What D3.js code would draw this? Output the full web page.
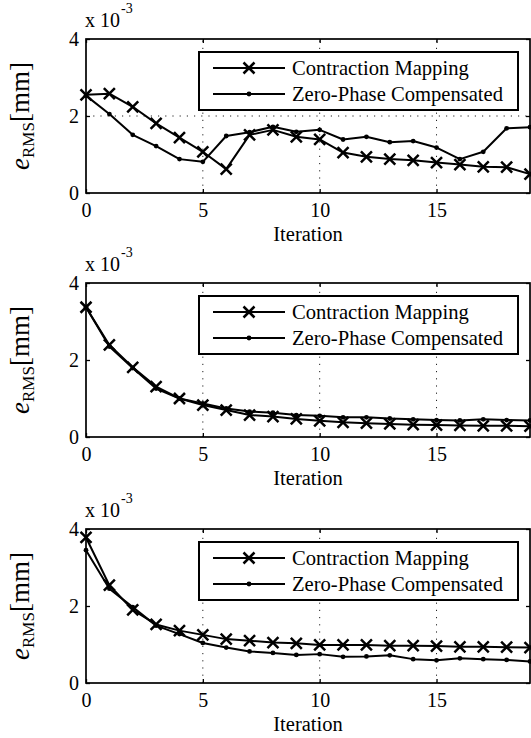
<!DOCTYPE html>
<html>
<head>
<meta charset="utf-8">
<script src="https://d3js.org/d3.v7.min.js"></script>
<style>
  html, body { margin: 0; padding: 0; background: #fff; }
  svg { display: block; }
  text { font-family: "Liberation Serif", "Times New Roman", serif; fill: #000; }
</style>
</head>
<body>
<svg id="chart" width="531" height="738"></svg>
<script>
// ---- data (units of 1e-3 mm) ----
const iterations = d3.range(0, 20);
const seriesNames = ["Contraction Mapping", "Zero-Phase Compensated"];
const xTicks = [0, 5, 10, 15];
const yTicks = [0, 2, 4];

const cm1 = [2.55, 2.58, 2.24, 1.81, 1.44, 1.07, 0.62, 1.51, 1.64, 1.46, 1.39, 1.05, 0.94, 0.88, 0.85, 0.79, 0.74, 0.68, 0.67, 0.49];
const zp1 = [2.53, 2.05, 1.51, 1.22, 0.88, 0.81, 1.48, 1.58, 1.72, 1.59, 1.64, 1.39, 1.46, 1.32, 1.35, 1.18, 0.88, 1.07, 1.68, 1.71];

const cm2 = [3.37, 2.39, 1.81, 1.31, 1.00, 0.83, 0.70, 0.57, 0.53, 0.47, 0.42, 0.38, 0.36, 0.34, 0.32, 0.31, 0.30, 0.29, 0.29, 0.28];
const zp2 = [3.37, 2.35, 1.79, 1.26, 1.00, 0.87, 0.74, 0.66, 0.63, 0.57, 0.55, 0.51, 0.51, 0.48, 0.46, 0.44, 0.43, 0.46, 0.44, 0.43];

const cm3 = [3.78, 2.54, 1.90, 1.52, 1.36, 1.25, 1.14, 1.10, 1.05, 1.03, 0.99, 0.99, 0.99, 0.97, 0.97, 0.96, 0.94, 0.94, 0.93, 0.92];
const zp3 = [3.45, 2.45, 1.97, 1.49, 1.27, 1.04, 0.92, 0.82, 0.78, 0.73, 0.75, 0.68, 0.69, 0.72, 0.62, 0.59, 0.64, 0.62, 0.60, 0.56];

const panels = [
  { top: 39,  cm: cm1, zp: zp1, yGrid: true },
  { top: 283, cm: cm2, zp: zp2, yGrid: false },
  { top: 529, cm: cm3, zp: zp3, yGrid: false }
];

// ---- layout ----
const left = 86, right = 530, plotH = 154;
const svg = d3.select("#chart");

const x = d3.scaleLinear().domain([0, 19]).range([left, right]);

panels.forEach(p => {
  const y = d3.scaleLinear().domain([0, 4]).range([p.top + plotH, p.top]);
  const g = svg.append("g");
  const bottom = p.top + plotH;

  // grid
  const grid = g.append("g").attr("stroke", "#222").attr("stroke-width", 1)
    .attr("stroke-dasharray", "1.2,6");
  xTicks.filter(t => t > 0).forEach(t => {
    grid.append("line").attr("x1", x(t)).attr("x2", x(t))
      .attr("y1", bottom).attr("y2", p.top);
  });
  if (p.yGrid) {
    grid.append("line").attr("x1", left).attr("x2", right)
      .attr("y1", y(2)).attr("y2", y(2));
  }

  // axes with inward ticks (box style)
  const axB = d3.axisBottom(x).tickValues(xTicks).tickSize(-4).tickPadding(10).tickFormat(d3.format("d"));
  const axT = d3.axisTop(x).tickValues(xTicks).tickSize(-4).tickFormat("");
  const axL = d3.axisLeft(y).tickValues(yTicks).tickSize(-4).tickPadding(7).tickFormat(d3.format("d"));
  const axR = d3.axisRight(y).tickValues(yTicks).tickSize(-4).tickFormat("");

  const gb = g.append("g").attr("transform", `translate(0,${bottom})`).call(axB);
  const gt = g.append("g").attr("transform", `translate(0,${p.top})`).call(axT);
  const gl = g.append("g").attr("transform", `translate(${left},0)`).call(axL);
  const gr = g.append("g").attr("transform", `translate(${right},0)`).call(axR);
  [gb, gt, gl, gr].forEach(a => {
    a.attr("font-family", null);
    a.select(".domain").remove();
    a.selectAll(".tick line").attr("stroke", "#000").attr("stroke-width", 1.3);
    a.selectAll(".tick text").attr("font-size", 20);
  });
  gb.selectAll(".tick text").attr("dy", "0.72em");
  gl.selectAll(".tick text").attr("dy", "0.34em");

  // box
  g.append("rect").attr("x", left).attr("y", p.top)
    .attr("width", right - left).attr("height", plotH)
    .attr("fill", "none").attr("stroke", "#000").attr("stroke-width", 1.7);

  // lines
  const line = d3.line().x((d, i) => x(iterations[i])).y(d => y(d));
  g.append("path").datum(p.zp).attr("d", line)
    .attr("fill", "none").attr("stroke", "#000").attr("stroke-width", 2).attr("stroke-linejoin", "round");
  g.append("path").datum(p.cm).attr("d", line)
    .attr("fill", "none").attr("stroke", "#000").attr("stroke-width", 2).attr("stroke-linejoin", "round");

  // markers
  g.append("g").selectAll("circle").data(p.zp).join("circle")
    .attr("cx", (d, i) => x(iterations[i])).attr("cy", d => y(d)).attr("r", 2.4).attr("fill", "#000");
  const s = 5.5;
  g.append("g").selectAll("path").data(p.cm).join("path")
    .attr("d", (d, i) => {
      const cx = x(iterations[i]), cy = y(d);
      return `M${cx - s},${cy - s}L${cx + s},${cy + s}M${cx - s},${cy + s}L${cx + s},${cy - s}`;
    })
    .attr("stroke", "#000").attr("stroke-width", 2.5).attr("fill", "none");

  // x label
  g.append("text").attr("x", (left + right) / 2).attr("y", bottom + 48)
    .attr("text-anchor", "middle").attr("font-size", 20.5).text("Iteration");

  // y label
  const yl = g.append("text")
    .attr("transform", `translate(29,${p.top + plotH / 2}) rotate(-90)`)
    .attr("text-anchor", "middle").attr("font-size", 27);
  yl.append("tspan").attr("font-style", "italic").text("e");
  yl.append("tspan").attr("font-size", 17).attr("dy", 5).text("RMS");
  yl.append("tspan").attr("dy", -5).text("[mm]");

  // exponent
  const ex = g.append("text").attr("x", 85).attr("y", p.top - 12).attr("font-size", 20);
  ex.append("tspan").text("x 10");
  ex.append("tspan").attr("font-size", 14).attr("dy", -14).attr("dx", 1).text("-3");

  // legend
  const lg = g.append("g");
  const lx0 = 199, lx1 = 518, ly0 = p.top + 13, ly1 = p.top + 71;
  lg.append("rect").attr("x", lx0).attr("y", ly0).attr("width", lx1 - lx0).attr("height", ly1 - ly0)
    .attr("fill", "#fff").attr("stroke", "#000").attr("stroke-width", 2);
  seriesNames.forEach((name, k) => {
    const ry = p.top + 29 + k * 26;
    lg.append("line").attr("x1", 213).attr("x2", 285).attr("y1", ry).attr("y2", ry)
      .attr("stroke", "#000").attr("stroke-width", 2);
    if (k === 0) {
      const cx = 249;
      lg.append("path").attr("d", `M${cx - s},${ry - s}L${cx + s},${ry + s}M${cx - s},${ry + s}L${cx + s},${ry - s}`)
        .attr("stroke", "#000").attr("stroke-width", 2.5);
    } else {
      lg.append("circle").attr("cx", 249).attr("cy", ry).attr("r", 2.4).attr("fill", "#000");
    }
    lg.append("text").attr("x", 292).attr("y", ry).attr("dy", "0.35em")
      .attr("font-size", 20.6).text(name);
  });
});
</script>
</body>
</html>
